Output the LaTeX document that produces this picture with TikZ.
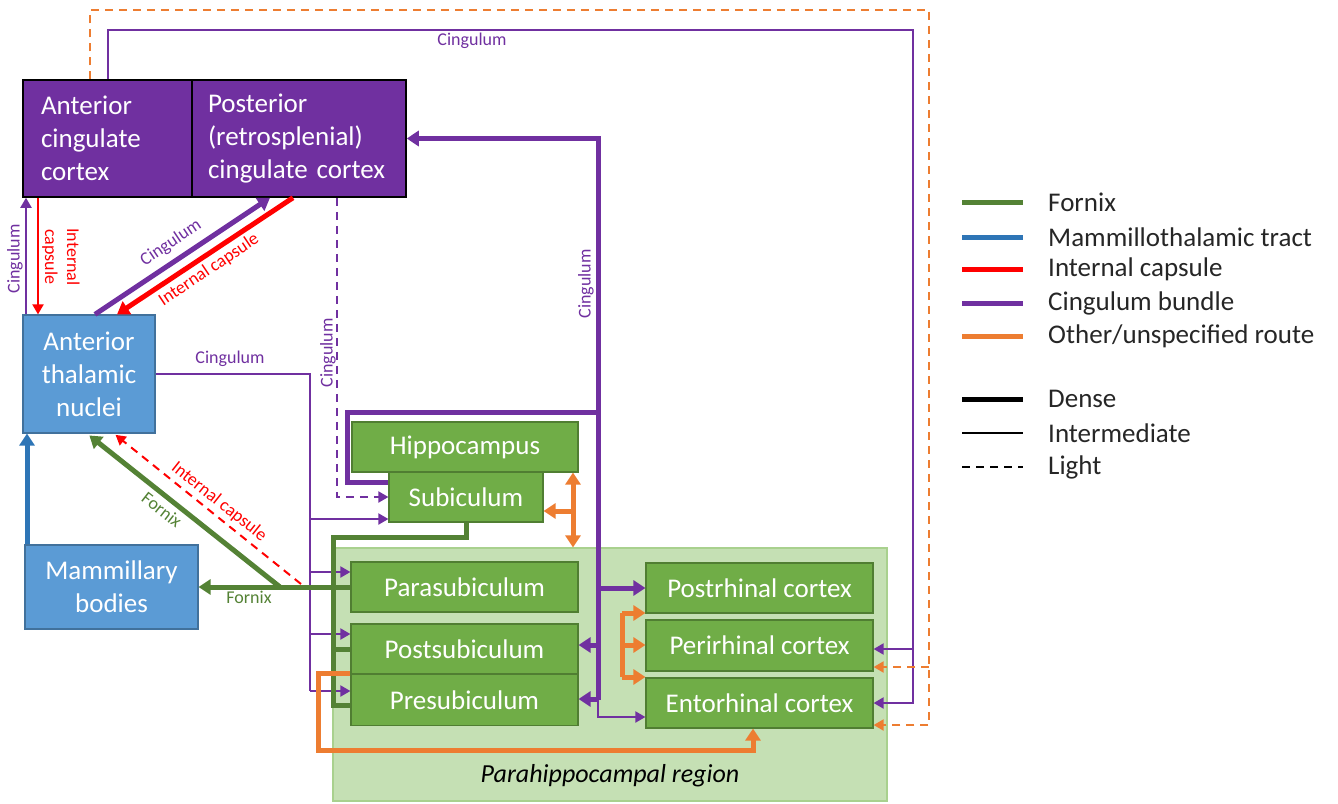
\documentclass[tikz,border=0pt]{standalone}
\usepackage{fontspec}
\setmainfont{Carlito}
\usetikzlibrary{arrows.meta}
\definecolor{cpur}{HTML}{7030A0}
\definecolor{cblue}{HTML}{5B9BD5}
\definecolor{cblueb}{HTML}{41719C}
\definecolor{cbline}{HTML}{2E75B6}
\definecolor{cgreen}{HTML}{70AD47}
\definecolor{cgreenb}{HTML}{507E32}
\definecolor{cgline}{HTML}{548235}
\definecolor{cregion}{HTML}{C5E0B4}
\definecolor{cregionb}{HTML}{A9D18E}
\definecolor{cred}{HTML}{FF0000}
\definecolor{corg}{HTML}{ED7D31}
\begin{document}
\begin{tikzpicture}[x=1pt,y=-1pt,
  bigfont/.style={font=\fontsize{27pt}{33pt}\selectfont},
  labfont/.style={font=\fontsize{18pt}{22pt}\selectfont},
  pbox/.style={draw=black, fill=cpur, line width=1.5pt, text=white, bigfont, inner ysep=0pt},
  bbox/.style={draw=cblueb, fill=cblue, line width=1.2pt, text=white, bigfont, align=center, inner sep=0pt},
  gbox/.style={draw=cgreenb, fill=cgreen, line width=1.2pt, text=white, bigfont, inner sep=0pt},
  dense/.style={line width=5pt},
  inter/.style={line width=2pt},
  light/.style={line width=2pt, dash pattern=on 8pt off 6pt},
  tipD/.tip={Triangle[length=12pt,width=15pt]},
  tipI/.tip={Triangle[length=10pt,width=11pt]},
  pl/.style={draw=cpur},
  rl/.style={draw=cred},
  gl/.style={draw=cgline},
  ol/.style={draw=corg},
  lab/.style={labfont, inner sep=0pt},
  legtext/.style={bigfont, anchor=west, inner sep=0pt, text=black!85}
]
\useasboundingbox (0,0) rectangle (1338,803);

% region
\node[draw=cregionb, fill=cregion, line width=1.2pt, minimum width=554pt, minimum height=253pt, inner sep=0pt] (region) at (610,674.5) {};
\node[bigfont, font=\fontsize{26pt}{30pt}\selectfont\itshape, inner sep=0pt] (regionlab) at (610,776) {Parahippocampal region};

% boxes
\node[pbox, minimum width=169pt, minimum height=117pt, text width=133pt, align=left, inner xsep=18pt] (acc) at (107.5,138.5) {Anterior\\cingulate\\cortex};
\node[pbox, minimum width=214pt, minimum height=117pt, text width=182pt, align=left, inner xsep=16pt] (pcc) at (299,138.5) {Posterior\\(retrosplenial)\\cingulate cortex};
\node[bbox, minimum width=132pt, minimum height=118pt] (atn) at (89,374) {Anterior\\thalamic\\nuclei};
\node[bbox, minimum width=173pt, minimum height=84pt] (mb) at (111.5,587) {Mammillary\\bodies};

\node[gbox, minimum width=226pt, minimum height=50pt] (hip) at (465,447) {Hippocampus};
\node[gbox, minimum width=154pt, minimum height=50pt] (sub) at (466,497) {Subiculum};
\node[gbox, minimum width=227pt, minimum height=50pt] (para) at (464.5,587) {Parasubiculum};
\node[gbox, minimum width=227pt, minimum height=50pt] (post) at (464.5,649) {Postsubiculum};
\node[gbox, minimum width=227pt, minimum height=51pt] (pre) at (464.5,700) {Presubiculum};
\node[gbox, minimum width=227pt, minimum height=50pt] (posr) at (759.5,588) {Postrhinal cortex};
\node[gbox, minimum width=227pt, minimum height=51pt] (peri) at (759.5,645.5) {Perirhinal cortex};
\node[gbox, minimum width=227pt, minimum height=50pt] (ento) at (759.5,703) {Entorhinal cortex};

% routing coordinates
\coordinate (xA) at (26,0);
\coordinate (xB) at (38,0);
\coordinate (xC) at (95,0);
\coordinate (xD) at (270,0);
\coordinate (xE) at (293,0);
\coordinate (xF) at (117,0);
\coordinate (xG) at (27,0);
\coordinate (xH) at (337,0);
\coordinate (xI) at (87,0);
\coordinate (xJ) at (114,0);
\coordinate (xK) at (108,0);
\coordinate (xL) at (90,0);
\coordinate (xM) at (573,0);
\coordinate (xN) at (753,0);

% ATN <-> ACC
\draw[pl, inter, -tipI] (atn.north -| xA) -- (acc.south -| xA);
\node[lab, text=cpur, rotate=90] (l1) at (15,259) {Cingulum};
\draw[rl, inter, -tipI] (acc.south -| xB) -- (atn.north -| xB);
\node[lab, text=cred, rotate=-90, align=center] (l2) at (61,257) {Internal\\capsule};

% ATN <-> PCC diagonals
\draw[pl, dense, -tipD] (atn.north -| xC) -- (pcc.south -| xD);
\node[lab, text=cpur, rotate=33.8] (l3) at (171,243) {Cingulum};
\draw[rl, dense, -tipD] (pcc.south -| xE) -- (atn.north -| xF);
\node[lab, text=cred, rotate=33.8] (l4) at (209,270) {Internal capsule};

% MB -> ATN
\draw[draw=cbline, dense, -tipD] (mb.north -| xG) -- (atn.south -| xG);

% PCC -> subiculum dashed
\draw[pl, light, -tipI] (pcc.south -| xH) |- (sub.west);
\node[lab, text=cpur, rotate=90] (l5) at (328,353) {Cingulum};

% ATN -> subicular complex (cingulum)
\coordinate (p1) at (310,519);
\coordinate (p2) at (310,572);
\coordinate (p3) at (310,634);
\coordinate (p4) at (310,691);
\draw[pl, inter] (atn.east) -| (p4);
\node[lab, text=cpur] (l6) at (230,359) {Cingulum};
\draw[pl, inter, -tipI] (p1) -- (p1 -| sub.west);
\draw[pl, inter, -tipI] (p2) -- (p2 -| para.west);
\draw[pl, inter, -tipI] (p3) -- (p3 -| post.west);
\draw[pl, inter, -tipI] (p4) -- (p4 -| pre.west);

% Fornix
\coordinate (g2) at (333,537);
\coordinate (g3) at (333,705);
\coordinate (g4) at (333,649);
\coordinate (fj) at (280,587);
\draw[gl, dense, line join=miter] (sub.south) |- (g2) -- (g3) -- (g3 -| pre.west);
\draw[gl, dense] (g4) -- (post.west);
\draw[gl, dense, -tipD] (para.west) -- (mb.east);
\draw[gl, dense, -tipD, shorten >=3pt] (fj) -- (atn.south -| xI);
\node[lab, text=cgline, rotate=-38] (l7) at (162,510) {Fornix};
\node[lab, text=cgline] (l8) at (249,597) {Fornix};

% Internal capsule dashed
\coordinate (rj) at (301,584);
\draw[rl, light, -tipI, shorten >=2pt] (rj) -- (atn.south -| xJ);
\node[lab, text=cred, rotate=-38.5] (l9) at (219,502) {Internal capsule};

% thick cingulum loop
\coordinate (q1) at (347,482);
\coordinate (q2) at (598,412);
\coordinate (q4) at (598,700);
\coordinate (q5) at (598,717);
\coordinate (qa) at (598,645);
\coordinate (qb) at (598,699);
\coordinate (qc) at (598,588);
\draw[pl, dense, line join=miter] (q1 -| sub.west) -- (q1) |- (q2);
\draw[pl, dense, -tipD] (q4) |- (pcc.east);
\node[lab, text=cpur, rotate=90] (l10) at (586,284) {Cingulum};
\draw[pl, dense, -tipD] (qc) -- (posr.west);
\draw[pl, dense, -tipD] (qa) -- (qa -| post.east);
\draw[pl, dense, -tipD] (qb) -- (qb -| pre.east);
\draw[pl, inter, -tipI] (q4) |- (q5 -| ento.west);

% orange around subiculum
\draw[ol, dense, tipD-tipD] (hip.south -| xM) -- (region.north -| xM);
\coordinate (o2) at (573,511);
\draw[ol, dense, -tipD] (o2) -- (o2 -| sub.east);

% orange bracket among rhinal cortices
\coordinate (b1) at (622,613);
\coordinate (b2) at (622,645);
\coordinate (b3) at (622,677);
\draw[ol, dense] (b1) -- (b3);
\draw[ol, dense, -tipD] (b1) -- (b1 -| posr.west);
\draw[ol, dense, -tipD] (b2) -- (b2 -| peri.west);
\draw[ol, dense, -tipD] (b3) -- (b3 -| ento.west);

% orange presubiculum -> entorhinal
\coordinate (t1) at (318,750);
\draw[ol, dense, -tipD, line join=miter] (pre.north west) -| (t1) -| (ento.south -| xN);

% long cingulum from ACC to rhinal cortices
\coordinate (r2) at (913,30);
\coordinate (r4) at (913,649);
\draw[pl, inter, -tipI] (acc.north -| xK) |- (r2) |- (ento.east);
\draw[pl, inter, -tipI] (r4) -- (r4 -| peri.east);
\node[lab, text=cpur] (l11) at (472,41) {Cingulum};

% long orange dashed
\coordinate (s3) at (929,10);
\coordinate (s1) at (929,725);
\coordinate (s2) at (929,667);
\draw[ol, light, -tipI] (acc.north -| xL) |- (s3) -- (s1) -- (s1 -| ento.east);
\draw[ol, light, -tipI] (s2) -- (s2 -| peri.east);

% legend
\draw[draw=cgline, line width=5pt] (962,202) -- (1023,202);
\node[legtext] (lg1) at (1048,202) {Fornix};
\draw[draw=cbline, line width=5pt] (962,237) -- (1023,237);
\node[legtext] (lg2) at (1048,237) {Mammillothalamic tract};
\draw[draw=cred, line width=5pt] (962,269) -- (1023,269);
\node[legtext] (lg3) at (1048,269) {Internal capsule};
\draw[draw=cpur, line width=5pt] (962,303) -- (1023,303);
\node[legtext] (lg4) at (1048,303) {Cingulum bundle};
\draw[draw=corg, line width=5pt] (962,336) -- (1023,336);
\node[legtext] (lg5) at (1048,336) {Other/unspecified route};
\draw[draw=black, line width=5pt] (962,399) -- (1023,399);
\node[legtext] (lg6) at (1048,399) {Dense};
\draw[draw=black, line width=1.5pt] (962,433) -- (1023,433);
\node[legtext] (lg7) at (1048,433) {Intermediate};
\draw[draw=black, line width=2pt, dash pattern=on 8pt off 6pt] (962,467) -- (1023,467);
\node[legtext] (lg8) at (1048,467) {Light};
\end{tikzpicture}
\end{document}
